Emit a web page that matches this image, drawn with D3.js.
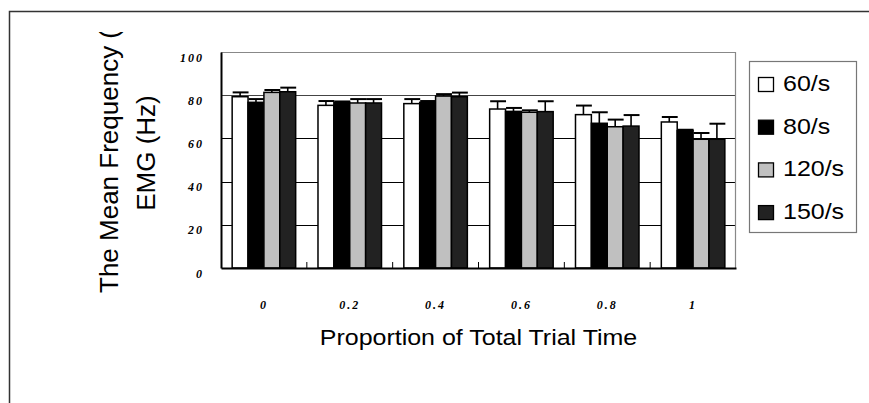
<!DOCTYPE html>
<html>
<head>
<meta charset="utf-8">
<script src="https://cdn.jsdelivr.net/npm/d3@7"></script>
<style>
  body { margin: 0; background: #fff; }
  svg { display: block; }
</style>
</head>
<body>
<div id="chart"></div>
<script>
// 数据
const categories = ["0", "0.2", "0.4", "0.6", "0.8", "1"];
const seriesNames = ["60/s", "80/s", "120/s", "150/s"];
const mean60 = [79.3, 75.3, 76.1, 73.6, 71.0, 67.6];
const mean80 = [76.7, 76.7, 76.7, 72.5, 67.0, 63.6];
const mean120 = [81.3, 76.4, 79.6, 72.1, 65.4, 59.6];
const mean150 = [81.6, 76.4, 79.3, 72.4, 65.7, 59.6];
const err60 = [2.0, 2.0, 2.1, 3.6, 4.2, 2.3];
const err80 = [1.5, 0.4, 0.6, 1.6, 5.1, 0.4];
const err120 = [1.1, 1.8, 0.9, 0.9, 3.3, 2.9];
const err150 = [1.9, 1.8, 1.9, 4.8, 5.1, 7.2];
const yTicks = [0, 20, 40, 60, 80, 100];

const fills = ["#ffffff", "#000000", "#c0c0c0", "#222222"];
const meansBySeries = [mean60, mean80, mean120, mean150];
const errsBySeries = [err60, err80, err120, err150];

const table = [];
categories.forEach((c, i) => {
    seriesNames.forEach((s, j) => {
        table.push({cat: c, series: s, value: meansBySeries[j][i], err: errsBySeries[j][i], fill: fills[j]});
    });
});

function renderChart() {
    const W = 869, H = 403;
    const margin = {top: 52, left: 221};
    const width = 515, height = 216;

    const svg = d3.select("#chart").append("svg")
        .attr("width", W)
        .attr("height", H);

    // 外框（只露出左边和上边）
    svg.append("path")
        .attr("d", `M9.5,${H + 5}V11.5H${W + 5}`)
        .attr("fill", "none")
        .attr("stroke", "#333")
        .attr("stroke-width", 1.5);

    const g = svg.append("g")
        .attr("transform", `translate(${margin.left},${margin.top})`);

    const x0 = d3.scaleBand()
        .domain(categories)
        .range([0, width])
        .paddingInner(0.26)
        .paddingOuter(0.13);

    const x1 = d3.scaleBand()
        .domain(seriesNames)
        .range([0, x0.bandwidth()]);

    const y = d3.scaleLinear()
        .domain([0, 100])
        .range([height, 0]);

    // 网格线
    g.selectAll(".grid")
        .data(yTicks.filter(t => t > 0 && t < 100))
        .enter().append("line")
        .attr("class", "grid")
        .attr("x1", 0).attr("x2", width)
        .attr("y1", d => Math.round(y(d)) + 0.5)
        .attr("y2", d => Math.round(y(d)) + 0.5)
        .attr("stroke", d => d === 80 ? "#444" : "#000")
        .attr("stroke-width", 1.1);

    // 上边和右边灰色边框
    g.append("path")
        .attr("d", `M0,${y(100) + 0.5}H${width - 0.5}V${height}`)
        .attr("fill", "none")
        .attr("stroke", "#888")
        .attr("stroke-width", 1.2);

    // 柱子
    const bars = g.selectAll(".bar")
        .data(table)
        .enter().append("g")
        .attr("class", "bar")
        .attr("transform", d => `translate(${x0(d.cat) + x1(d.series)},0)`);

    // 误差线（只向上）
    bars.append("line")
        .attr("x1", x1.bandwidth() / 2).attr("x2", x1.bandwidth() / 2)
        .attr("y1", d => y(d.value))
        .attr("y2", d => y(d.value + d.err))
        .attr("stroke", "#000")
        .attr("stroke-width", 1.6);

    bars.append("line")
        .attr("x1", 0.5).attr("x2", x1.bandwidth() + 0.5)
        .attr("y1", d => y(d.value + d.err))
        .attr("y2", d => y(d.value + d.err))
        .attr("stroke", "#000")
        .attr("stroke-width", 2);

    bars.append("rect")
        .attr("x", 0)
        .attr("y", d => y(d.value))
        .attr("width", x1.bandwidth())
        .attr("height", d => height - y(d.value))
        .attr("fill", d => d.fill)
        .attr("stroke", "#000")
        .attr("stroke-width", 1.5);

    // 横轴
    const xAxis = d3.axisBottom(x0).tickSize(0).tickPadding(32);
    const xg = g.append("g")
        .attr("transform", `translate(0,${height})`)
        .call(xAxis);
    xg.select(".domain").attr("stroke", "#000").attr("stroke-width", 2);
    xg.selectAll("text")
        .attr("font-family", "'Liberation Serif', serif")
        .attr("font-style", "italic")
        .attr("font-weight", "bold")
        .attr("font-size", 12)
        .attr("letter-spacing", "2px")
        .attr("fill", "#000");

    // 组之间的小刻度
    g.selectAll(".sep")
        .data(categories.slice(1))
        .enter().append("line")
        .attr("class", "sep")
        .attr("x1", d => x0(d) - x0.step() * x0.paddingInner() / 2)
        .attr("x2", d => x0(d) - x0.step() * x0.paddingInner() / 2)
        .attr("y1", height)
        .attr("y2", height - 6)
        .attr("stroke", "#000")
        .attr("stroke-width", 1);

    // 纵轴
    const yAxis = d3.axisLeft(y).tickValues(yTicks).tickSize(0).tickPadding(17);
    const yg = g.append("g").call(yAxis);
    yg.select(".domain").attr("stroke", "#000").attr("stroke-width", 2);
    yg.selectAll("text")
        .attr("font-family", "'Liberation Serif', serif")
        .attr("font-style", "italic")
        .attr("font-weight", "bold")
        .attr("font-size", 12)
        .attr("letter-spacing", "2px")
        .attr("dy", "0.75em")
        .attr("fill", "#000");

    // 横轴标题
    svg.append("g")
        .attr("transform", `translate(${margin.left + width / 2},345) scale(1,0.86)`)
        .append("text")
        .attr("text-anchor", "middle")
        .attr("font-family", "'Liberation Sans', Arial, sans-serif")
        .attr("font-size", 25)
        .attr("fill", "#000")
        .text("Proportion of Total Trial Time");

    // 纵轴标题（上端被裁掉）
    svg.append("clipPath").attr("id", "ytitle-clip")
        .append("rect").attr("x", 0).attr("y", 32).attr("width", 200).attr("height", 371);

    const yt = svg.append("g").attr("clip-path", "url(#ytitle-clip)");
    yt.append("text")
        .attr("transform", "translate(118,293) rotate(-90)")
        .attr("font-family", "'Liberation Sans', Arial, sans-serif")
        .attr("font-size", 26)
        .attr("fill", "#000")
        .text("The Mean Frequency (");
    yt.append("text")
        .attr("transform", "translate(155,153) rotate(-90)")
        .attr("text-anchor", "middle")
        .attr("font-family", "'Liberation Sans', Arial, sans-serif")
        .attr("font-size", 26)
        .attr("fill", "#000")
        .text("EMG (Hz)");

    // 图例
    const legend = svg.append("g");
    legend.append("rect")
        .attr("x", 749.5).attr("y", 61.5)
        .attr("width", 107).attr("height", 171)
        .attr("fill", "#fff")
        .attr("stroke", "#777")
        .attr("stroke-width", 1.2);

    const item = legend.selectAll(".item")
        .data(seriesNames)
        .enter().append("g")
        .attr("class", "item")
        .attr("transform", (d, i) => `translate(758,${90 + i * 42.7})`);

    item.append("rect")
        .attr("x", 0.5).attr("y", -12.5)
        .attr("width", 15).attr("height", 14)
        .attr("fill", (d, i) => fills[i])
        .attr("stroke", "#000")
        .attr("stroke-width", 1.3);

    item.append("g")
        .attr("transform", "translate(25,1) scale(1,0.86)")
        .append("text")
        .attr("font-family", "'Liberation Sans', Arial, sans-serif")
        .attr("font-size", 25)
        .attr("fill", "#000")
        .text(d => d);
}

renderChart();
</script>
</body>
</html>
